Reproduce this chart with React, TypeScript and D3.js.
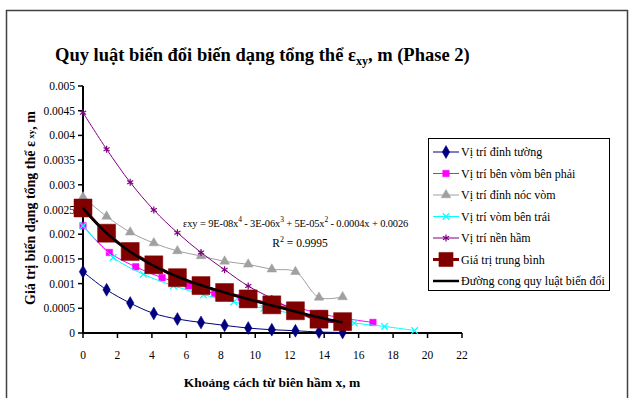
import React from "react";
import * as d3 from "d3";

// Distance from the tunnel boundary (m) at each measuring step
const xWall = [0, 1.37, 2.74, 4.11, 5.48, 6.85, 8.22, 9.59, 10.96, 12.33, 13.7, 15.07];
const xRight = [0, 1.53, 3.06, 4.59, 6.12, 7.65, 9.18, 10.71, 12.24, 13.77, 15.3, 16.83];
const xLeft = [0, 1.75, 3.5, 5.25, 7.0, 8.75, 10.5, 12.25, 14.0, 15.75, 17.5, 19.25];

// Total strain values per position
const wallTop = [0.00124, 0.000875, 0.000606, 0.000396, 0.000283, 0.000214, 0.000154, 0.0001, 0.000067, 0.000046, 0.00002, 0.00001];
const rightArch = [0.00217, 0.00163, 0.00134, 0.00112, 0.000955, 0.0008, 0.00072, 0.00062, 0.00053, 0.00039, 0.00029, 0.000214];
const crown = [0.00275, 0.00236, 0.00204, 0.00182, 0.00166, 0.00156, 0.00145, 0.00139, 0.00129, 0.00124, 0.00072, 0.00073];
const leftArch = [0.00217, 0.00153, 0.00119, 0.000955, 0.000774, 0.00063, 0.0005, 0.00039, 0.00028, 0.0002, 0.000133, 0.00005];
const invert = [0.00446, 0.00372, 0.00305, 0.00249, 0.00203, 0.00163, 0.00128, 0.00095, 0.0007, 0.00044, 0.00024, 0.00021];
const average = [0.00253, 0.00202, 0.00165, 0.00138, 0.00112, 0.00096, 0.00082, 0.00069, 0.00057, 0.00045, 0.00028, 0.00023];

const yTicks = [0, 0.0005, 0.001, 0.0015, 0.002, 0.0025, 0.003, 0.0035, 0.004, 0.0045, 0.005];
const xTicks = [0, 2, 4, 6, 8, 10, 12, 14, 16, 18, 20, 22];

const legendLabels = [
  "Vị trí đỉnh tường",
  "Vị trí bên vòm bên phải",
  "Vị trí đỉnh nóc vòm",
  "Vị trí vòm bên trái",
  "Vị trí nền hầm",
  "Giá trị trung bình",
  "Đường cong quy luật biến đổi",
];

const FONT = "'Liberation Serif', 'Times New Roman', serif";

// Least-squares polynomial (degree 4) through the averaged series
function polyFit(xs: number[], ys: number[], deg: number): number[] {
  const n = deg + 1;
  const A: number[][] = Array.from({ length: n }, () => new Array(n + 1).fill(0));
  for (let r = 0; r < n; r++) {
    for (let c = 0; c < n; c++) {
      A[r][c] = d3.sum(xs, (x) => Math.pow(x, r + c));
    }
    A[r][n] = d3.sum(xs, (x, i) => ys[i] * Math.pow(x, r));
  }
  for (let i = 0; i < n; i++) {
    let p = i;
    for (let k = i + 1; k < n; k++) if (Math.abs(A[k][i]) > Math.abs(A[p][i])) p = k;
    [A[i], A[p]] = [A[p], A[i]];
    for (let k = i + 1; k < n; k++) {
      const f = A[k][i] / A[i][i];
      for (let c = i; c <= n; c++) A[k][c] -= f * A[i][c];
    }
  }
  const coef = new Array(n).fill(0);
  for (let i = n - 1; i >= 0; i--) {
    let s = A[i][n];
    for (let c = i + 1; c < n; c++) s -= A[i][c] * coef[c];
    coef[i] = s / A[i][i];
  }
  return coef;
}

const W = 630;
const H = 398;
const plot = { left: 83, right: 462, top: 86, bottom: 333 };

export default function App() {
  const x = d3.scaleLinear().domain([0, 22]).range([plot.left, plot.right]);
  const y = d3.scaleLinear().domain([0, 0.005]).range([plot.bottom, plot.top]);

  const series = [
    { xs: xWall, ys: wallTop, color: "#000080", symbol: d3.symbolDiamond, size: 48, fill: true, width: 1 },
    { xs: xRight, ys: rightArch, color: "#FF00FF", symbol: d3.symbolSquare, size: 42, fill: true, width: 1 },
    { xs: xWall, ys: crown, color: "#A0A0A0", symbol: d3.symbolTriangle, size: 40, fill: true, width: 1 },
    { xs: xLeft, ys: leftArch, color: "#00FFFF", symbol: d3.symbolX, size: 30, fill: false, width: 1 },
    { xs: xWall, ys: invert, color: "#800080", symbol: d3.symbolAsterisk, size: 34, fill: false, width: 1 },
    { xs: xWall, ys: average, color: "#800000", symbol: d3.symbolSquare, size: 324, fill: true, width: 3 },
  ];

  const line = d3
    .line<[number, number]>()
    .x((d) => x(d[0]))
    .y((d) => y(d[1]))
    .curve(d3.curveCatmullRom.alpha(0.5));

  const coef = polyFit(xWall, average, 4);
  const xMax = d3.max(xWall) as number;
  const trendPts: [number, number][] = d3
    .range(0, 201)
    .map((i) => {
      const xv = (xMax * i) / 200;
      const yv = coef.reduce((s, c, k) => s + c * Math.pow(xv, k), 0);
      return [xv, yv] as [number, number];
    });
  const trendLine = d3
    .line<[number, number]>()
    .x((d) => x(d[0]))
    .y((d) => y(d[1]));

  const fmtY = (v: number) => (v === 0 ? "0" : String(+v.toFixed(4)));

  const legendX = 428;
  const legendY = 138;
  const rowH = 21.5;

  return (
    <svg width={W} height={H} style={{ position: "absolute", left: 0, top: 0, background: "#fff" }} fontFamily={FONT}>
      {/* chart area frame */}
      <rect x={6.5} y={10.5} width={621} height={400} fill="none" stroke="#404040" strokeWidth={1.5} />

      {/* title */}
      <text x={55} y={61} fontSize={18.5} fontWeight="bold" fill="#000">
        Quy luật biến đổi biến dạng tổng thể ε
        <tspan fontSize={12} dy={4}>xy</tspan>
        <tspan dy={-4}>, m (Phase 2)</tspan>
      </text>

      {/* y axis */}
      <g>
        {yTicks.map((t) => (
          <g key={t} transform={`translate(0,${y(t)})`}>
            <line x1={plot.left - 5} x2={plot.left} stroke="#000" strokeWidth={1.5} />
            <text x={plot.left - 8} dy="0.35em" textAnchor="end" fontSize={11.5} fill="#000">
              {fmtY(t)}
            </text>
          </g>
        ))}
        <line x1={plot.left} x2={plot.left} y1={plot.top} y2={plot.bottom} stroke="#000" strokeWidth={2} />
      </g>

      {/* x axis */}
      <g>
        {xTicks.map((t) => (
          <g key={t} transform={`translate(${x(t)},0)`}>
            <line y1={plot.bottom} y2={plot.bottom + 5} stroke="#000" strokeWidth={1.5} />
            <text y={plot.bottom + 26} textAnchor="middle" fontSize={11.5} fill="#000">
              {t}
            </text>
          </g>
        ))}
        <line x1={plot.left} x2={plot.right} y1={plot.bottom} y2={plot.bottom} stroke="#000" strokeWidth={2} />
      </g>

      {/* axis titles */}
      <text
        transform={`translate(35,208) rotate(-90)`}
        textAnchor="middle"
        fontSize={14}
        fontWeight="bold"
        fill="#000"
      >
        Giá trị biến dạng tổng thể ε
        <tspan fontSize={9} dy={-1}> xy</tspan>
        <tspan dy={1}>, m</tspan>
      </text>
      <text x={272} y={387} textAnchor="middle" fontSize={13.5} fontWeight="bold" fill="#000">
        Khoảng cách từ biên hầm x, m
      </text>

      {/* data series */}
      {series.map((s, i) => {
        const pts = s.xs.map((xv, k) => [xv, s.ys[k]] as [number, number]);
        const sym = d3.symbol().type(s.symbol).size(s.size)();
        return (
          <g key={i}>
            <path d={line(pts) || ""} fill="none" stroke={s.color} strokeWidth={s.width} />
            {pts.map((p, k) => (
              <path
                key={k}
                d={sym || ""}
                transform={`translate(${x(p[0])},${y(p[1])})`}
                fill={s.fill ? s.color : "none"}
                stroke={s.color}
                strokeWidth={s.fill ? 0.5 : 1.2}
              />
            ))}
          </g>
        );
      })}

      {/* polynomial trend line */}
      <path d={trendLine(trendPts) || ""} fill="none" stroke="#000" strokeWidth={2.5} />

      {/* trend equation */}
      <text x={183} y={227} fontSize={10.5} letterSpacing={-0.15} fill="#000">
        εxy = 9E-08x<tspan dy={-5} fontSize={7.5}>4</tspan>
        <tspan dy={5}> - 3E-06x</tspan>
        <tspan dy={-5} fontSize={7.5}>3</tspan>
        <tspan dy={5}> + 5E-05x</tspan>
        <tspan dy={-5} fontSize={7.5}>2</tspan>
        <tspan dy={5}> - 0.0004x + 0.0026</tspan>
      </text>
      <text x={300} y={247} textAnchor="middle" fontSize={11.5} fill="#000">
        R<tspan dy={-5} fontSize={8}>2</tspan>
        <tspan dy={5}> = 0.9995</tspan>
      </text>

      {/* legend */}
      <rect x={legendX + 0.5} y={legendY + 0.5} width={181} height={152} fill="#fff" stroke="#000" strokeWidth={1} />
      {legendLabels.map((label, i) => {
        const cy = legendY + 14 + i * rowH;
        const s = series[i];
        const sym = s ? d3.symbol().type(s.symbol).size(i === 5 ? 200 : s.size)() : null;
        return (
          <g key={label}>
            <line
              x1={433}
              x2={459}
              y1={cy}
              y2={cy}
              stroke={s ? s.color : "#000"}
              strokeWidth={s ? s.width : 2.5}
            />
            {s && (
              <path
                d={sym || ""}
                transform={`translate(446,${cy})`}
                fill={s.fill ? s.color : "none"}
                stroke={s.color}
                strokeWidth={s.fill ? 0.5 : 1.2}
              />
            )}
            <text x={461} y={cy} dy="0.35em" fontSize={12} fill="#000">
              {label}
            </text>
          </g>
        );
      })}
    </svg>
  );
}
